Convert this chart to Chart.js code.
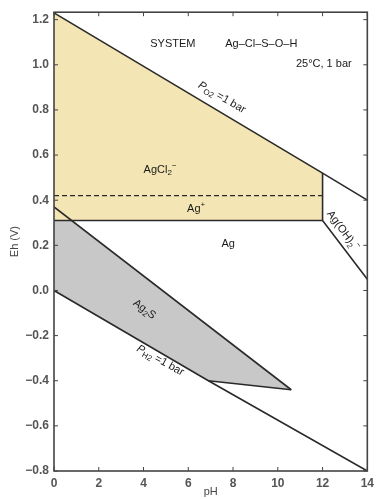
<!DOCTYPE html>
<html>
<head>
<meta charset="utf-8">
<script src="https://cdn.jsdelivr.net/npm/chart.js@4.4.1/dist/chart.umd.min.js"></script>
<style>
  html, body { margin: 0; padding: 0; background: #fff; }
  #wrap { width: 379px; height: 499px; }
</style>
</head>
<body>
<div id="wrap"><canvas id="ehph" width="379" height="499"></canvas></div>
<script>
// Eh-pH diagram Ag-Cl-S-O-H, 25°C 1 bar
const xTicks = [0, 2, 4, 6, 8, 10, 12, 14];
const yTicks = [-0.8, -0.6, -0.4, -0.2, 0.0, 0.2, 0.4, 0.6, 0.8, 1.0, 1.2];

// water stability limits
const o2Ph = [0, 12, 14];
const o2Eh = [1.23, 0.52, 0.40];
const h2Ph = [0, 6.9, 14];
const h2Eh = [0.0, -0.40, -0.80];

// AgCl2- / Ag+ / Ag boundaries
const agclPh = [0, 12];
const agclBaseEh = [0.31, 0.31];
const agPlusEh = [0.42, 0.42];

// Ag(OH)2- field
const agOhPh = [12, 12, 14];
const agOhEh = [0.52, 0.31, 0.05];

// Ag2S field
const ag2sTopPh = [0, 10.6];
const ag2sTopEh = [0.37, -0.44];
const ag2sBotPh = [0, 6.9, 10.6];
const ag2sBotEh = [0.0, -0.40, -0.44];

const pts = (xs, ys) => xs.map((x, i) => ({ x: x, y: ys[i] }));

const FONT = "'Liberation Sans', Arial, sans-serif";
const LINE = "#2a2a2a";
const YELLOW = "#f3e6b4";
const GREY = "#c8c8c8";

function lineSet(data, extra) {
    return Object.assign({
        data: data,
        showLine: true,
        borderColor: LINE,
        borderWidth: 1.6,
        pointRadius: 0,
        fill: false,
        tension: 0
    }, extra || {});
}

// texte avec indices / exposants
function drawRich(ctx, parts, x, y, angle, size) {
    ctx.save();
    ctx.translate(x, y);
    ctx.rotate(angle * Math.PI / 180);
    ctx.textBaseline = "middle";
    ctx.fillStyle = "#1a1a1a";
    const fontOf = p => (p.it ? "italic " : "") + ((p.sub || p.sup) ? Math.round(size * 0.72) : size) + "px " + FONT;
    let total = 0;
    parts.forEach(p => { ctx.font = fontOf(p); total += ctx.measureText(p.t).width; });
    let cx = -total / 2;
    parts.forEach(p => {
        ctx.font = fontOf(p);
        const dy = p.sub ? size * 0.32 : (p.sup ? -size * 0.38 : 0);
        ctx.fillText(p.t, cx, dy);
        cx += ctx.measureText(p.t).width;
    });
    ctx.restore();
}

const fieldLabels = [
    { at: [4.74, 0.535], rot: 0, parts: [{ t: "AgCl" }, { t: "2", sub: true }, { t: "\u2212", sup: true }] },
    { at: [6.35, 0.363], rot: 0, parts: [{ t: "Ag" }, { t: "+", sup: true }] },
    { at: [7.78, 0.208], rot: 0, parts: [{ t: "Ag" }] },
    { at: [12.9, 0.265], rot: 54, parts: [{ t: "Ag(OH)" }, { t: "2", sub: true }, { t: "\u2212", sup: true }] },
    { at: [4.04, -0.084], rot: 37, parts: [{ t: "Ag" }, { t: "2", sub: true }, { t: "S" }] },
    { at: [7.5, 0.855], rot: 30, parts: [{ t: "P", it: true }, { t: "O2", sub: true }, { t: " =1 bar" }] },
    { at: [4.75, -0.31], rot: 29, parts: [{ t: "P", it: true }, { t: "H2", sub: true }, { t: " =1 bar" }] }
];

const framePlugin = {
    id: "framePlugin",
    afterDatasetsDraw(chart) {
        const { ctx, chartArea: a, scales: { x, y } } = chart;
        ctx.save();
        ctx.strokeStyle = "#444";
        ctx.lineWidth = 1.6;
        ctx.strokeRect(a.left, a.top, a.right - a.left, a.bottom - a.top);
        ctx.lineWidth = 1;
        ctx.beginPath();
        xTicks.forEach(v => {
            const px = x.getPixelForValue(v);
            ctx.moveTo(px, a.bottom); ctx.lineTo(px, a.bottom - 4);
            ctx.moveTo(px, a.top); ctx.lineTo(px, a.top + 4);
        });
        yTicks.forEach(v => {
            const py = y.getPixelForValue(v);
            ctx.moveTo(a.left, py); ctx.lineTo(a.left + 4, py);
            ctx.moveTo(a.right, py); ctx.lineTo(a.right - 4, py);
        });
        ctx.stroke();

        fieldLabels.forEach(l => {
            drawRich(ctx, l.parts, x.getPixelForValue(l.at[0]), y.getPixelForValue(l.at[1]), l.rot, 11);
        });

        ctx.fillStyle = "#1a1a1a";
        ctx.textBaseline = "middle";
        ctx.font = "11px " + FONT;
        ctx.textAlign = "left";
        ctx.fillText("SYSTEM", x.getPixelForValue(4.3), y.getPixelForValue(1.093));
        ctx.fillText("Ag\u2013Cl\u2013S\u2013O\u2013H", x.getPixelForValue(7.65), y.getPixelForValue(1.093));
        ctx.textAlign = "right";
        ctx.fillText("25\u00b0C, 1 bar", x.getPixelForValue(13.3), y.getPixelForValue(1.004));
        ctx.restore();
    }
};

new Chart(document.getElementById("ehph"), {
    type: "scatter",
    data: {
        datasets: [
            lineSet(pts(o2Ph, o2Eh)),
            lineSet(pts(h2Ph, h2Eh)),
            lineSet(pts(agclPh, agclBaseEh)),
            lineSet(pts(agclPh, agPlusEh), { borderDash: [5, 3], borderWidth: 1.2 }),
            lineSet(pts(agOhPh, agOhEh)),
            lineSet(pts(ag2sTopPh, ag2sTopEh)),
            lineSet(pts(ag2sBotPh.slice(1), ag2sBotEh.slice(1))),
            // zones colorées
            lineSet(pts(o2Ph.slice(0, 2), o2Eh.slice(0, 2)), { borderWidth: 0, fill: 8, backgroundColor: YELLOW }),
            lineSet(pts(agclPh, agclBaseEh), { borderWidth: 0 }),
            lineSet(pts(ag2sTopPh, ag2sTopEh), { borderWidth: 0, fill: 10, backgroundColor: GREY }),
            lineSet(pts(ag2sBotPh, ag2sBotEh), { borderWidth: 0 })
        ]
    },
    options: {
        responsive: false,
        animation: false,
        devicePixelRatio: 1,
        layout: { padding: { top: 10, right: 3, left: 0, bottom: 0 } },
        plugins: { legend: { display: false }, tooltip: { enabled: false } },
        scales: {
            x: {
                type: "linear",
                min: 0, max: 14,
                afterBuildTicks: s => { s.ticks = xTicks.map(v => ({ value: v })); },
                afterFit: s => { s.height = 28; },
                grid: { display: false, drawTicks: false },
                border: { display: false },
                ticks: { padding: 5, color: "#555", font: { family: FONT, size: 12, weight: "bold" } },
                title: { display: true, text: "pH", color: "#444", padding: 0, font: { family: FONT, size: 11 } }
            },
            y: {
                type: "linear",
                min: -0.8, max: 1.233,
                afterBuildTicks: s => { s.ticks = yTicks.map(v => ({ value: v })); },
                afterFit: s => { s.width = 54; },
                grid: { display: false, drawTicks: false },
                border: { display: false },
                ticks: {
                    padding: 5, color: "#555", font: { family: FONT, size: 12, weight: "bold" },
                    callback: v => (v < -0.001 ? "\u2212" + Math.abs(v).toFixed(1) : Math.abs(v).toFixed(1))
                },
                title: { display: true, text: "Eh (V)", color: "#444", padding: { top: 8 }, font: { family: FONT, size: 11 } }
            }
        }
    },
    plugins: [framePlugin]
});
</script>
</body>
</html>
